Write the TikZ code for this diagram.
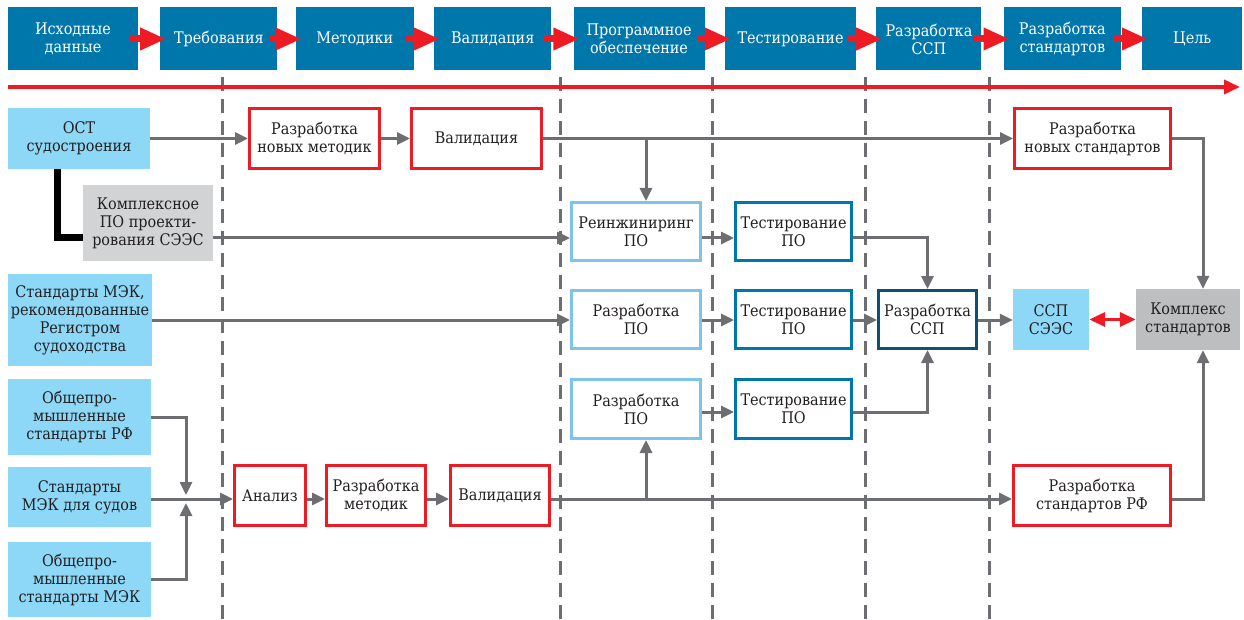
\documentclass[tikz,border=0pt]{standalone}
\usepackage{fontspec}
\setmainfont{DejaVu Serif Condensed}
\usepackage{tikz}
\usetikzlibrary{arrows.meta,positioning}
\definecolor{stageblue}{RGB}{0,119,170}
\definecolor{srcblue}{RGB}{141,215,247}
\definecolor{softblue}{RGB}{125,195,236}
\definecolor{sspdark}{RGB}{12,80,118}
\definecolor{markred}{RGB}{237,28,36}
\definecolor{linkgray}{RGB}{109,110,113}
\definecolor{paleg}{RGB}{209,211,212}
\definecolor{darkg}{RGB}{188,190,192}
\definecolor{textdark}{RGB}{35,31,32}

\begin{document}
\begin{tikzpicture}
	[x=1pt, y=-1pt, font=\fontsize{16}{18}\selectfont, text=textdark,
	% STYLES
	every node/.style={inner sep=2pt, align=center},
	% The stage style is used for the phases of the top bar
	stage/.style={rectangle, fill=stageblue, text=white, minimum height=63pt},
	% The source style is used for the initial documents
	source/.style={rectangle, fill=srcblue, minimum width=143pt},
	% The work style is used for the red boxes
	work/.style={rectangle, draw=markred, line width=3pt, fill=white, minimum height=60pt},
	% The soft style is used for the software boxes
	soft/.style={rectangle, draw=softblue, line width=3pt, fill=white, minimum width=129pt, minimum height=58pt},
	test/.style={soft, draw=stageblue, minimum width=116pt},
	% Connectors
	link/.style={color=linkgray, line width=3pt, -{Triangle[length=13pt,width=12pt]}},
	move/.style={color=markred, line width=7pt, -{Triangle[length=26pt,width=21pt]}},
	phase/.style={draw=linkgray, line width=3pt, dash pattern=on 14pt off 8pt}]
	\useasboundingbox (0,0) rectangle (1244,620);
	% Rows and branch points
	\coordinate (row2) at (0,238);
	\coordinate (row3) at (0,320);
	\coordinate (row4) at (0,412);
	\coordinate (row5) at (0,499);
	\coordinate (split) at (646,0);
	\coordinate (merge) at (186,499);
	% Phase borders
	\foreach \px in {222,560,712,865,989}
		\draw[phase] (\px,77) -- (\px,620);
	% Time axis
	\coordinate (t0) at (8,87);
	\coordinate (t1) at (1240,87);
	\draw[color=markred, line width=3.5pt, -{Triangle[length=16pt,width=14pt]}] (t0) -- (t1);
	% Draw stages
	\node [stage, minimum width=130pt] (s1) at (73,39) {Исходные\\данные};
	\node [stage, minimum width=117pt, right=22pt of s1] (s2) {Требования};
	\node [stage, minimum width=118pt, right=18pt of s2] (s3) {Методики};
	\node [stage, minimum width=117pt, right=20pt of s3] (s4) {Валидация};
	\node [stage, minimum width=131pt, right=22pt of s4] (s5) {Программное\\обеспечение};
	\node [stage, minimum width=131pt, right=20pt of s5] (s6) {Тестирование};
	\node [stage, minimum width=105pt, right=20pt of s6] (s7) {Разработка\\ССП};
	\node [stage, minimum width=117pt, right=22pt of s7] (s8) {Разработка\\стандартов};
	\node [stage, minimum width=100pt, right=21pt of s8] (s9) {Цель};
	\path[move]
	([xshift=-8pt]s1.east) edge ([xshift=6pt]s2.west)
	([xshift=-8pt]s2.east) edge ([xshift=6pt]s3.west)
	([xshift=-8pt]s3.east) edge ([xshift=6pt]s4.west)
	([xshift=-8pt]s4.east) edge ([xshift=6pt]s5.west)
	([xshift=-8pt]s5.east) edge ([xshift=6pt]s6.west)
	([xshift=-8pt]s6.east) edge ([xshift=6pt]s7.west)
	([xshift=-8pt]s7.east) edge ([xshift=6pt]s8.west)
	([xshift=-8pt]s8.east) edge ([xshift=6pt]s9.west);
	% Draw sources
	\node [source, minimum width=142pt, minimum height=61pt] (ost) at (79,138.5) {ОСТ\\судостроения};
	\node [rectangle, fill=paleg, minimum width=130pt, minimum height=76pt] (kompl) at (148,223) {Комплексное\\ПО проекти-\\рования СЭЭС};
	\node [source, minimum width=144pt, minimum height=92pt] (mekreg) at (80,320) {Стандарты МЭК,\\рекомендованные\\Регистром\\судоходства};
	\node [source, minimum height=76pt] (obshrf) at (79.5,417) {Общепро-\\мышленные\\стандарты РФ};
	\node [source, minimum height=60pt] (meksud) at (79.5,497) {Стандарты\\МЭК для судов};
	\node [source, minimum height=75pt] (obshmek) at (79.5,579.5) {Общепро-\\мышленные\\стандарты МЭК};
	% Draw works
	\node [work, minimum width=130pt] (novmet) at (314.5,138.5) {Разработка\\новых методик};
	\node [work, minimum width=130pt] (val1) at (476.5,138.5) {Валидация};
	\node [work, minimum width=156pt] (novstd) at (1092.5,138.5) {Разработка\\новых стандартов};
	\node [work, minimum width=71pt] (analiz) at (270,495.5) {Анализ};
	\node [work, minimum width=99pt] (razmet) at (376,495.5) {Разработка\\методик};
	\node [work, minimum width=99pt] (val2) at (500,495.5) {Валидация};
	\node [work, minimum width=157pt] (stdrf) at (1092,495.5) {Разработка\\стандартов РФ};
	% Draw software and tests
	\node [soft] (reing) at (636,231.5) {Реинжиниринг\\ПО};
	\node [soft] (razpo1) at (636,319.5) {Разработка\\ПО};
	\node [soft, minimum height=59pt] (razpo2) at (636,409) {Разработка\\ПО};
	\node [test] (test1) at (793.5,231.5) {Тестирование\\ПО};
	\node [test] (test2) at (793.5,319.5) {Тестирование\\ПО};
	\node [test, minimum height=59pt] (test3) at (793.5,409) {Тестирование\\ПО};
	\node [test, draw=sspdark, minimum width=98pt] (ssp) at (927.5,319.5) {Разработка\\ССП};
	\node [source, minimum width=76pt, minimum height=61pt] (ssees) at (1051,319.5) {ССП\\СЭЭС};
	\node [rectangle, fill=darkg, minimum width=104pt, minimum height=61pt] (kstd) at (1188,319.5) {Комплекс\\стандартов};
	%%%%%%%%%%%%%%%%
	% Draw the links
	\draw[black, line width=7pt] ([xshift=-22pt]ost.south) |- (kompl.west |- row2);
	\path[link]
	(ost) edge (novmet)
	(novmet) edge (val1)
	(val1) edge (novstd);
	\draw[link] (split |- val1) -- (split |- reing.north);
	\draw[link] (kompl.east |- row2) -- (reing.west |- row2);
	\draw[link] (reing.east |- row2) -- (test1.west |- row2);
	\draw[link] (test1.east |- row2) -| (ssp.north);
	\draw[link] (mekreg.east |- row3) -- (razpo1.west |- row3);
	\draw[link] (razpo1.east |- row3) -- (test2.west |- row3);
	\draw[link] (test2.east |- row3) -- (ssp.west |- row3);
	\draw[link] (ssp.east |- row3) -- (ssees.west |- row3);
	\draw[color=markred, line width=3.5pt, {Triangle[length=16pt,width=14pt]}-{Triangle[length=16pt,width=14pt]}] (ssees) -- (kstd);
	\draw[link] (razpo2.east |- row4) -- (test3.west |- row4);
	\draw[link] (test3.east |- row4) -| (ssp.south);
	\draw[link] (obshrf.east) -| ([yshift=4pt]merge);
	\draw[link] (obshmek.east) -| ([yshift=-4pt]merge);
	\draw[link] (meksud.east |- row5) -- (analiz.west |- row5);
	\draw[link] (analiz.east |- row5) -- (razmet.west |- row5);
	\draw[link] (razmet.east |- row5) -- (val2.west |- row5);
	\draw[link] (val2.east |- row5) -- (stdrf.west |- row5);
	\draw[link] (split |- row5) -- (split |- razpo2.south);
	\draw[link] (novstd.east) -| ([xshift=15pt]kstd.north);
	\draw[link] (stdrf.east |- row5) -| ([xshift=15pt]kstd.south);
\end{tikzpicture}
\end{document}
